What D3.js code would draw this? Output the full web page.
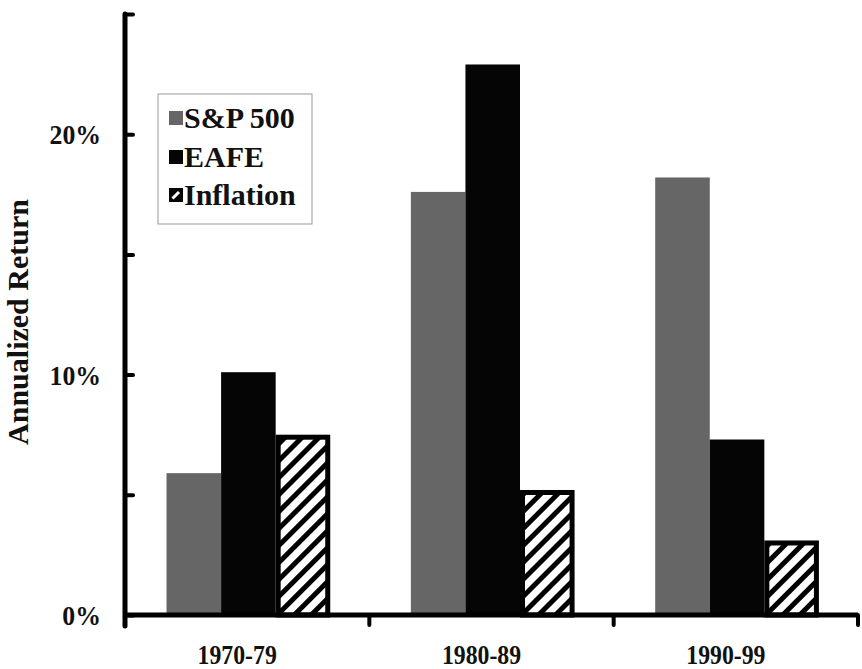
<!DOCTYPE html>
<html>
<head>
<meta charset="utf-8">
<script src="https://cdn.jsdelivr.net/npm/d3@7"></script>
<style>
  html, body { margin: 0; padding: 0; background: #fff; }
  svg { display: block; }
  text { font-family: "Liberation Serif", "Times New Roman", Times, "DejaVu Serif", serif; font-weight: bold; fill: #111; }
</style>
</head>
<body>
<svg id="chart" width="862" height="669" font-family="'Liberation Serif', 'Times New Roman', Times, serif"></svg>
<script>
// ---- data ----
const categories = ["1970-79", "1980-89", "1990-99"];
const seriesNames = ["S&P 500", "EAFE", "Inflation"];
const sp500 = [5.9, 17.6, 18.2];
const eafe = [10.1, 22.9, 7.3];
const inflation = [7.5, 5.2, 3.1];
const yTicks = [0, 5, 10, 15, 20, 25];
const yTickLabels = { 0: "0%", 10: "10%", 20: "20%" };
const yTitle = "Annualized Return";

const seriesValues = [sp500, eafe, inflation];
const rows = categories.map((c, i) => ({
  cat: c,
  vals: seriesNames.map((s, j) => ({ key: s, value: seriesValues[j][i] }))
}));

const svg = d3.select("#chart");
const mLeft = 125, mRight = 858, mTop = 14, mBottom = 615;

const x0 = d3.scaleBand().domain(categories).range([mLeft, mRight]);
const bw = x0.bandwidth();
const x1 = d3.scaleBand().domain(seriesNames).range([bw * 0.17, bw * 0.84]);
const y = d3.scaleLinear().domain([0, 25]).range([mBottom, mTop]);

// pattern for Inflation
const defs = svg.append("defs");
const pat = defs.append("pattern")
  .attr("id", "stripes")
  .attr("patternUnits", "userSpaceOnUse")
  .attr("width", 12).attr("height", 12)
  .attr("patternTransform", "rotate(45)");
pat.append("rect").attr("width", 12).attr("height", 12).attr("fill", "#fff");
pat.append("rect").attr("x", 0).attr("width", 5).attr("height", 12).attr("fill", "#000");

const fills = { "S&P 500": "#666666", "EAFE": "#050505", "Inflation": "url(#stripes)" };

// bars
const g = svg.append("g");
const groups = g.selectAll("g.grp").data(rows).join("g")
  .attr("class", "grp")
  .attr("transform", d => `translate(${x0(d.cat)},0)`);

groups.selectAll("rect.bar").data(d => d.vals).join("rect")
  .attr("class", "bar")
  .attr("x", d => d.key === "Inflation" ? x1(d.key) + 2.5 : x1(d.key))
  .attr("y", d => d.key === "Inflation" ? y(d.value) + 2.5 : y(d.value))
  .attr("width", d => d.key === "Inflation" ? x1.bandwidth() - 5 : x1.bandwidth())
  .attr("height", d => d.key === "Inflation" ? y(0) - y(d.value) - 2.5 : y(0) - y(d.value))
  .attr("fill", d => fills[d.key])
  .attr("stroke", d => d.key === "Inflation" ? "#000" : "none")
  .attr("stroke-width", 5);

// y axis
const yAxis = d3.axisRight(y).tickValues(yTicks).tickSize(8).tickFormat("");
const ya = svg.append("g").attr("transform", `translate(${mLeft},0)`).call(yAxis);
ya.select(".domain").remove();
ya.selectAll(".tick line").attr("stroke", "#000").attr("stroke-width", 4).attr("stroke-linecap", "round");
svg.append("line").attr("x1", mLeft).attr("x2", mLeft).attr("y1", y(25)).attr("y2", mBottom + 11)
  .attr("stroke", "#000").attr("stroke-width", 5).attr("stroke-linecap", "round");

// y tick labels
svg.append("g").selectAll("text").data(yTicks.filter(t => yTickLabels[t] !== undefined)).join("text")
  .attr("transform", d => `translate(101,${y(d) + 10}) scale(0.92,1)`)
  .attr("text-anchor", "end")
  .attr("font-size", 28)
  .text(d => yTickLabels[d]);

// x axis
const xAxis = d3.axisBottom(x0).tickSize(0).tickFormat("");
const xa = svg.append("g").attr("transform", `translate(0,${mBottom})`).call(xAxis);
xa.select(".domain").remove();
svg.append("line").attr("x1", mLeft).attr("x2", mRight).attr("y1", mBottom).attr("y2", mBottom)
  .attr("stroke", "#000").attr("stroke-width", 5);
const bounds = categories.map(c => x0(c)).concat([mRight]);
svg.append("g").selectAll("line").data(bounds.slice(1)).join("line")
  .attr("x1", d => d).attr("x2", d => d).attr("y1", mBottom).attr("y2", mBottom + 10)
  .attr("stroke", "#000").attr("stroke-width", 4).attr("stroke-linecap", "round");

// x labels
svg.append("g").selectAll("text").data(categories).join("text")
  .attr("transform", d => `translate(${x0(d) + bw / 2 - 10},664) scale(0.88,1)`)
  .attr("text-anchor", "middle")
  .attr("font-size", 27)
  .text(d => d);

// y title
svg.append("text")
  .attr("transform", `translate(28,${322}) rotate(-90)`)
  .attr("text-anchor", "middle")
  .attr("font-size", 30)
  .text(yTitle);

// legend
const lg = svg.append("g");
lg.append("rect").attr("x", 158).attr("y", 94).attr("width", 154).attr("height", 130)
  .attr("fill", "#fff").attr("stroke", "#999").attr("stroke-width", 1);
const rowY = [118, 157, 195];
const li = lg.selectAll("g.li").data(seriesNames).join("g").attr("class", "li")
  .attr("transform", (d, i) => `translate(169,${rowY[i]})`);
li.append("rect").attr("x", 0).attr("y", -7).attr("width", 14).attr("height", 14)
  .attr("fill", d => d === "S&P 500" ? fills[d] : "#050505");
li.filter(d => d === "Inflation").append("line")
  .attr("x1", 3.5).attr("y1", 3.5).attr("x2", 10).attr("y2", -3)
  .attr("stroke", "#fff").attr("stroke-width", 3);
li.append("text").attr("x", 15).attr("y", 10).attr("font-size", 30).text(d => d);
</script>
</body>
</html>
